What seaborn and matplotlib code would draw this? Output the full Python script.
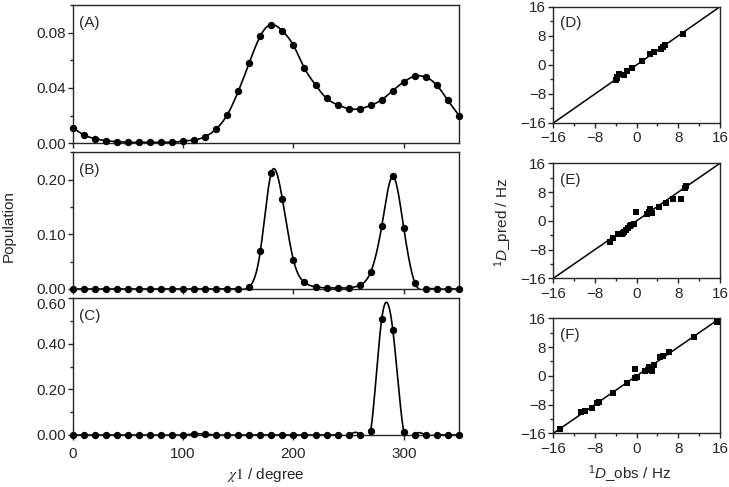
import numpy as np
import pandas as pd
import matplotlib
matplotlib.use("Agg")
import matplotlib.pyplot as plt
import seaborn as sns
from matplotlib.ticker import MultipleLocator, FormatStrFormatter, FuncFormatter

# ---------------- data ----------------
chi1 = list(range(0, 360, 10))

pop_A = [0.0114, 0.0061, 0.0034, 0.0019, 0.0012, 0.0007, 0.0007, 0.0007, 0.0007, 0.0007,
         0.0015, 0.0024, 0.0048, 0.0104, 0.0206, 0.0376, 0.0582, 0.0776, 0.0858, 0.0812,
         0.0708, 0.0543, 0.0422, 0.0325, 0.0279, 0.0250, 0.0250, 0.0274, 0.0315, 0.0381,
         0.0444, 0.0485, 0.0478, 0.0419, 0.0310, 0.0201]

pop_B = [0, 0, 0, 0, 0, 0, 0, 0, 0, 0, 0, 0, 0, 0, 0, 0,
         0.004, 0.069, 0.213, 0.164, 0.053, 0.012, 0.004, 0.002, 0.002, 0.002,
         0.007, 0.031, 0.115, 0.206, 0.111, 0.0115,
         0, 0, 0, 0]

pop_C = [0, 0, 0, 0, 0, 0, 0, 0, 0, 0, 0,
         0.005, 0.004,
         0, 0, 0, 0, 0, 0, 0, 0, 0, 0, 0, 0, 0, 0,
         0.018, 0.510, 0.463, 0.013,
         0, 0, 0, 0, 0]

D_obs = [-4.0, -3.8, -3.7, -3.3, -2.5, -1.8, -0.8, 1.1, 2.6, 3.4, 4.6, 5.0, 5.4, 8.9]
D_pred = [-4.1, -3.7, -3.3, -2.4, -2.9, -1.8, -0.9, 1.1, 3.0, 3.4, 4.3, 4.9, 5.5, 8.6]

E_obs = [-5.1, -4.5, -3.5, -2.9, -2.6, -2.4, -2.0, -1.7, -1.3, -1.0, -0.6, -0.1,
         2.0, 2.4, 2.6, 2.9, 4.2, 5.6, 7.0, 8.6, 9.2, 9.4]
E_pred = [-5.8, -4.9, -3.7, -3.7, -3.3, -3.0, -2.5, -2.1, -1.4, -1.2, -0.9, 2.4,
          1.8, 2.4, 3.3, 2.1, 3.8, 4.9, 6.0, 6.1, 9.0, 9.8]

F_obs = [-14.7, -10.6, -10.0, -8.5, -7.7, -7.2, -4.5, -1.8, -0.3, 0.0, -0.3,
         1.6, 2.2, 2.4, 2.9, 3.4, 4.5, 5.1, 6.2, 11.0, 15.4]
F_pred = [-14.9, -10.0, -9.8, -9.0, -7.7, -7.4, -4.7, -2.1, -0.7, -0.2, 1.9,
          1.3, 1.6, 2.4, 1.3, 3.0, 5.1, 5.6, 6.5, 10.7, 14.9]

pop_panels = [("(A)", pop_A, 0.10, 0.04, 0.02),
              ("(B)", pop_B, 0.25, 0.10, 0.05),
              ("(C)", pop_C, 0.60, 0.20, 0.10)]
rdc_panels = [("(D)", D_obs, D_pred), ("(E)", E_obs, E_pred), ("(F)", F_obs, F_pred)]

# ---------------- style ----------------
sns.set_style("ticks")
plt.rcParams["font.family"] = ["Liberation Sans", "DejaVu Sans"]
plt.rcParams["mathtext.fontset"] = "custom"
plt.rcParams["mathtext.rm"] = "Liberation Sans"
plt.rcParams["mathtext.it"] = "Liberation Sans:italic"
plt.rcParams["axes.linewidth"] = 1.0
for k in ("xtick.major.width", "ytick.major.width", "xtick.minor.width", "ytick.minor.width"):
    plt.rcParams[k] = 1.0

FS = 11
TICK_LEN = 3.5
TICK_PAD = 1.5


def natural_spline(x, y, xs):
    x = np.asarray(x, float)
    y = np.asarray(y, float)
    n = len(x)
    h = np.diff(x)
    A = np.zeros((n, n))
    b = np.zeros(n)
    A[0, 0] = A[-1, -1] = 1
    for i in range(1, n - 1):
        A[i, i - 1] = h[i - 1]
        A[i, i] = 2 * (h[i - 1] + h[i])
        A[i, i + 1] = h[i]
        b[i] = 3 * ((y[i + 1] - y[i]) / h[i] - (y[i] - y[i - 1]) / h[i - 1])
    c = np.linalg.solve(A, b)
    bc = (y[1:] - y[:-1]) / h - h * (2 * c[:-1] + c[1:]) / 3
    d = (c[1:] - c[:-1]) / (3 * h)
    idx = np.clip(np.searchsorted(x, xs) - 1, 0, n - 2)
    dx = xs - x[idx]
    return y[idx] + bc[idx] * dx + c[idx] * dx ** 2 + d[idx] * dx ** 3


W, H = 729, 487
fig = plt.figure(figsize=(W / 100, H / 100), dpi=100)

def px_axes(left, top, right, bottom):
    return fig.add_axes([left / W, 1 - bottom / H, (right - left) / W, (bottom - top) / H])

left_boxes = [(72.7, 5.0, 459.0, 143.3), (72.7, 152.3, 459.0, 289.0), (72.7, 298.3, 459.0, 435.0)]
right_boxes = [(553.3, 6.7, 720.0, 123.0), (553.3, 163.3, 720.0, 278.3), (553.3, 318.3, 720.0, 433.3)]

for k, ((lab, pop, ymax, maj, mnr), box) in enumerate(zip(pop_panels, left_boxes)):
    ax = px_axes(*box)
    df = pd.DataFrame({"chi1": chi1, "pop": pop})
    xs = np.linspace(0, 350, 1401)
    ys = natural_spline(chi1, pop, xs)
    sns.lineplot(x=xs, y=ys, ax=ax, color="black", lw=1.2, estimator=None, sort=False)
    sns.scatterplot(data=df, x="chi1", y="pop", ax=ax, color="black", s=28,
                    edgecolor="black", linewidth=0, clip_on=False, zorder=5)
    ax.set_xlim(0, 350)
    ax.set_ylim(0, ymax)
    ax.xaxis.set_major_locator(MultipleLocator(100))
    ax.yaxis.set_major_locator(MultipleLocator(maj))
    ax.yaxis.set_minor_locator(MultipleLocator(mnr))
    if k == 2:
        # top label of panel C is drawn slightly lower (below), as in the reference
        ax.yaxis.set_major_formatter(FuncFormatter(
            lambda v, p: "" if abs(v - 0.6) < 1e-6 else f"{v:.2f}"))
        ax.annotate("0.60", xy=(0, 0.6), xycoords=("axes fraction", "data"),
                    xytext=(-(TICK_LEN + TICK_PAD), -3.5), textcoords="offset points",
                    ha="right", va="center_baseline", fontsize=FS)
    else:
        ax.yaxis.set_major_formatter(FormatStrFormatter("%.2f"))
    ax.tick_params(axis="both", which="major", direction="out", length=TICK_LEN,
                   labelsize=FS, pad=TICK_PAD)
    ax.tick_params(axis="x", which="major", pad=5)
    ax.tick_params(axis="both", which="minor", direction="out", length=2.5)
    ax.set_xlabel("")
    ax.set_ylabel("")
    if k < 2:
        ax.tick_params(axis="x", labelbottom=False)
    ax.text(0.017, 0.87, lab, transform=ax.transAxes, fontsize=FS, ha="left", va="center")

ax.set_xlabel(r"$\chi\mathrm{1}$ / degree", fontsize=FS, math_fontfamily="stix", labelpad=4)

for k, ((lab, obs, pred), box) in enumerate(zip(rdc_panels, right_boxes)):
    ax = px_axes(*box)
    df = pd.DataFrame({"obs": obs, "pred": pred})
    ax.axline((0, 0), slope=1, color="black", lw=1.1)
    sns.scatterplot(data=df, x="obs", y="pred", ax=ax, color="black", marker="s", s=20,
                    edgecolor="black", linewidth=0, clip_on=False, zorder=5)
    ax.set_xlim(-16, 16)
    ax.set_ylim(-16, 16)
    for a in (ax.xaxis, ax.yaxis):
        a.set_major_locator(MultipleLocator(8))
        a.set_minor_locator(MultipleLocator(4))
    ax.tick_params(axis="both", which="major", direction="out", length=TICK_LEN,
                   labelsize=FS, pad=TICK_PAD)
    ax.tick_params(axis="x", which="major", pad=2.5)
    ax.tick_params(axis="both", which="minor", direction="out", length=2.5)
    ax.set_xlabel("")
    ax.set_ylabel("")
    ax.text(0.04, 0.857, lab, transform=ax.transAxes, fontsize=FS, ha="left", va="center")

fig.text(630 / W, 1 - 474 / H, r"$^{1}\mathit{D}$_obs / Hz", fontsize=FS, ha="center", va="center")
fig.text(503 / W, 1 - 222 / H, r"$^{1}\mathit{D}$_pred / Hz", fontsize=FS, ha="center",
         va="center", rotation=90)
fig.text(9 / W, 1 - 226 / H, "Population", fontsize=FS, ha="center", va="center", rotation=90)

fig.savefig("out.png", dpi=100)
